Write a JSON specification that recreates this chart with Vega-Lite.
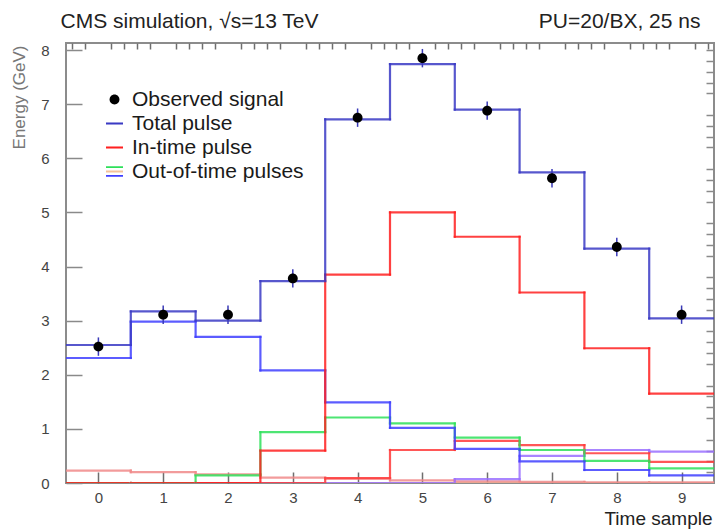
{
  "$schema": "https://vega.github.io/schema/vega-lite/v6.json",
  "width": 648,
  "height": 440,
  "autosize": "none",
  "padding": {"left": 66, "top": 43, "right": 2, "bottom": 47},
  "background": "white",
  "config": {
    "view": {"stroke": "#8c8c8c", "strokeWidth": 2},
    "font": "Liberation Sans",
    "axis": {"grid": false, "labelFont": "Liberation Sans", "titleFont": "Liberation Sans"}
  },
  "datasets": {
    "pulses": [
      {"sample": 0, "series": "oot6", "energy": 0}, {"sample": 1, "series": "oot6", "energy": 0}, {"sample": 2, "series": "oot6", "energy": 0}, {"sample": 3, "series": "oot6", "energy": 0}, {"sample": 4, "series": "oot6", "energy": 0},
      {"sample": 5, "series": "oot6", "energy": 0}, {"sample": 6, "series": "oot6", "energy": 0}, {"sample": 7, "series": "oot6", "energy": 0}, {"sample": 8, "series": "oot6", "energy": 0}, {"sample": 9, "series": "oot6", "energy": 0},
      {"sample": 0, "series": "oot1", "energy": 0.23}, {"sample": 1, "series": "oot1", "energy": 0.2}, {"sample": 2, "series": "oot1", "energy": 0.16}, {"sample": 3, "series": "oot1", "energy": 0.1}, {"sample": 4, "series": "oot1", "energy": 0.08},
      {"sample": 5, "series": "oot1", "energy": 0.05}, {"sample": 6, "series": "oot1", "energy": 0.03}, {"sample": 7, "series": "oot1", "energy": 0.02}, {"sample": 8, "series": "oot1", "energy": 0.01}, {"sample": 9, "series": "oot1", "energy": 0.01},
      {"sample": 0, "series": "oot5", "energy": 0}, {"sample": 1, "series": "oot5", "energy": 0}, {"sample": 2, "series": "oot5", "energy": 0}, {"sample": 3, "series": "oot5", "energy": 0}, {"sample": 4, "series": "oot5", "energy": 0},
      {"sample": 5, "series": "oot5", "energy": 0}, {"sample": 6, "series": "oot5", "energy": 0.07}, {"sample": 7, "series": "oot5", "energy": 0.5}, {"sample": 8, "series": "oot5", "energy": 0.61}, {"sample": 9, "series": "oot5", "energy": 0.58},
      {"sample": 0, "series": "oot4", "energy": 0}, {"sample": 1, "series": "oot4", "energy": 0}, {"sample": 2, "series": "oot4", "energy": 0}, {"sample": 3, "series": "oot4", "energy": 0}, {"sample": 4, "series": "oot4", "energy": 0.09},
      {"sample": 5, "series": "oot4", "energy": 0.61}, {"sample": 6, "series": "oot4", "energy": 0.78}, {"sample": 7, "series": "oot4", "energy": 0.7}, {"sample": 8, "series": "oot4", "energy": 0.55}, {"sample": 9, "series": "oot4", "energy": 0.39},
      {"sample": 0, "series": "oot3", "energy": 0}, {"sample": 1, "series": "oot3", "energy": 0}, {"sample": 2, "series": "oot3", "energy": 0.14}, {"sample": 3, "series": "oot3", "energy": 0.94}, {"sample": 4, "series": "oot3", "energy": 1.21},
      {"sample": 5, "series": "oot3", "energy": 1.1}, {"sample": 6, "series": "oot3", "energy": 0.84}, {"sample": 7, "series": "oot3", "energy": 0.61}, {"sample": 8, "series": "oot3", "energy": 0.41}, {"sample": 9, "series": "oot3", "energy": 0.27},
      {"sample": 0, "series": "oot2", "energy": 2.31}, {"sample": 1, "series": "oot2", "energy": 2.98}, {"sample": 2, "series": "oot2", "energy": 2.7}, {"sample": 3, "series": "oot2", "energy": 2.08}, {"sample": 4, "series": "oot2", "energy": 1.49},
      {"sample": 5, "series": "oot2", "energy": 1.02}, {"sample": 6, "series": "oot2", "energy": 0.63}, {"sample": 7, "series": "oot2", "energy": 0.4}, {"sample": 8, "series": "oot2", "energy": 0.24}, {"sample": 9, "series": "oot2", "energy": 0.14},
      {"sample": 0, "series": "In-time pulse", "energy": 0}, {"sample": 1, "series": "In-time pulse", "energy": 0}, {"sample": 2, "series": "In-time pulse", "energy": 0}, {"sample": 3, "series": "In-time pulse", "energy": 0.6}, {"sample": 4, "series": "In-time pulse", "energy": 3.85},
      {"sample": 5, "series": "In-time pulse", "energy": 5.0}, {"sample": 6, "series": "In-time pulse", "energy": 4.55}, {"sample": 7, "series": "In-time pulse", "energy": 3.52}, {"sample": 8, "series": "In-time pulse", "energy": 2.49}, {"sample": 9, "series": "In-time pulse", "energy": 1.65},
      {"sample": 0, "series": "Total pulse", "energy": 2.55}, {"sample": 1, "series": "Total pulse", "energy": 3.17}, {"sample": 2, "series": "Total pulse", "energy": 3.0}, {"sample": 3, "series": "Total pulse", "energy": 3.73}, {"sample": 4, "series": "Total pulse", "energy": 6.72},
      {"sample": 5, "series": "Total pulse", "energy": 7.74}, {"sample": 6, "series": "Total pulse", "energy": 6.9}, {"sample": 7, "series": "Total pulse", "energy": 5.74}, {"sample": 8, "series": "Total pulse", "energy": 4.33}, {"sample": 9, "series": "Total pulse", "energy": 3.04}
    ],
    "observed": [
      {"sample": 0, "series": "Observed signal", "energy": 2.52, "err": 0.17},
      {"sample": 1, "series": "Observed signal", "energy": 3.11, "err": 0.17},
      {"sample": 2, "series": "Observed signal", "energy": 3.11, "err": 0.17},
      {"sample": 3, "series": "Observed signal", "energy": 3.78, "err": 0.17},
      {"sample": 4, "series": "Observed signal", "energy": 6.75, "err": 0.17},
      {"sample": 5, "series": "Observed signal", "energy": 7.85, "err": 0.17},
      {"sample": 6, "series": "Observed signal", "energy": 6.88, "err": 0.17},
      {"sample": 7, "series": "Observed signal", "energy": 5.63, "err": 0.17},
      {"sample": 8, "series": "Observed signal", "energy": 4.36, "err": 0.17},
      {"sample": 9, "series": "Observed signal", "energy": 3.11, "err": 0.17}
    ]
  },
  "layer": [
    {
      "data": {"name": "pulses"},
      "transform": [
        {"calculate": "datum.sample - 0.5", "as": "lo"},
        {"calculate": "datum.sample + 0.5", "as": "hi"}
      ],
      "mark": {"type": "rule", "strokeWidth": 2.2, "strokeCap": "square", "opacity": 0.85, "clip": true},
      "encoding": {
        "x": {
          "field": "lo", "type": "quantitative",
          "scale": {"domain": [-0.5, 9.5], "nice": false, "zero": false},
          "axis": {
            "values": [0, 1, 2, 3, 4, 5, 6, 7, 8, 9],
            "tickSize": -11, "tickColor": "#6e6e6e", "tickWidth": 1.5, "domain": false,
            "labelFontSize": 15, "labelColor": "#444444", "labelPadding": 18,
            "title": "Time sample", "titleX": 646, "titleY": 41, "titleAlign": "right", "titleBaseline": "alphabetic",
            "titleFontSize": 19, "titleFontWeight": "normal", "titleColor": "#222222"
          }
        },
        "x2": {"field": "hi"},
        "y": {
          "field": "energy", "type": "quantitative",
          "scale": {"domain": [0, 8.13], "nice": false},
          "axis": {
            "values": [0, 1, 2, 3, 4, 5, 6, 7, 8],
            "tickSize": -16, "tickColor": "#8a8a8a", "tickWidth": 1.5, "domain": false,
            "labelFontSize": 15, "labelColor": "#444444", "labelPadding": 33,
            "title": "Energy (GeV)", "titleX": -47, "titleY": 2, "titleAngle": 270, "titleAlign": "right", "titleBaseline": "middle",
            "titleFontSize": 17, "titleFontWeight": "normal", "titleColor": "#777777"
          }
        },
        "stroke": {
          "field": "series", "type": "nominal",
          "scale": {
            "domain": ["oot6", "oot1", "oot5", "oot4", "oot3", "oot2", "In-time pulse", "Total pulse"],
            "range": ["#f4c39a", "#f08a8a", "#9a70ff", "#ff3a3a", "#2ee05a", "#3f3fff", "#ff2020", "#3a3ac4"]
          },
          "legend": null
        }
      }
    },
    {
      "data": {"name": "pulses"},
      "transform": [
        {"calculate": "datum.sample - 0.5", "as": "lo"},
        {"window": [{"op": "lag", "field": "energy", "as": "prev"}], "groupby": ["series"], "sort": [{"field": "sample", "order": "ascending"}]},
        {"filter": "datum.prev != null"}
      ],
      "mark": {"type": "rule", "strokeWidth": 2.2, "strokeCap": "square", "opacity": 0.85, "clip": true},
      "encoding": {
        "x": {
          "field": "lo", "type": "quantitative",
          "scale": {"domain": [-0.5, 9.5], "nice": false, "zero": false},
          "axis": {
            "values": [-0.4, -0.2, 0.2, 0.4, 0.6, 0.8, 1.2, 1.4, 1.6, 1.8, 2.2, 2.4, 2.6, 2.8, 3.2, 3.4, 3.6, 3.8, 4.2, 4.4, 4.6, 4.8, 5.2, 5.4, 5.6, 5.8, 6.2, 6.4, 6.6, 6.8, 7.2, 7.4, 7.6, 7.8, 8.2, 8.4, 8.6, 8.8, 9.2, 9.4],
            "tickSize": -6, "tickColor": "#6e6e6e", "tickWidth": 1.5, "domain": false, "labels": false, "title": null
          }
        },
        "y": {
          "field": "prev", "type": "quantitative",
          "scale": {"domain": [0, 8.13], "nice": false},
          "axis": {
            "values": [0.2, 0.4, 0.6, 0.8, 1.2, 1.4, 1.6, 1.8, 2.2, 2.4, 2.6, 2.8, 3.2, 3.4, 3.6, 3.8, 4.2, 4.4, 4.6, 4.8, 5.2, 5.4, 5.6, 5.8, 6.2, 6.4, 6.6, 6.8, 7.2, 7.4, 7.6, 7.8, 8.0],
            "tickSize": -8, "tickColor": "#8a8a8a", "tickWidth": 1.5, "domain": false, "labels": false, "title": null
          }
        },
        "y2": {"field": "energy"},
        "stroke": {"field": "series", "type": "nominal", "legend": null}
      }
    },
    {
      "data": {"name": "observed"},
      "mark": {"type": "errorbar", "color": "#3a3ab8", "thickness": 1.5},
      "encoding": {
        "x": {"field": "sample", "type": "quantitative", "axis": null},
        "y": {"field": "energy", "type": "quantitative", "axis": null},
        "yError": {"field": "err"}
      }
    },
    {
      "data": {"name": "observed"},
      "mark": {"type": "point", "filled": true, "size": 289, "opacity": 1, "strokeWidth": 0},
      "encoding": {
        "x": {
          "field": "sample", "type": "quantitative",
          "axis": {
            "orient": "top", "ticks": false, "labels": false, "domain": false,
            "title": "CMS simulation, √s=13 TeV", "titleX": -6, "titleY": -16, "titleAlign": "left", "titleBaseline": "alphabetic",
            "titleFontSize": 21, "titleFontWeight": "normal", "titleColor": "#222222"
          }
        },
        "y": {
          "field": "energy", "type": "quantitative",
          "axis": {
            "orient": "right", "ticks": false, "labels": false, "domain": false,
            "title": "PU=20/BX, 25 ns", "titleAngle": 0, "titleX": -14, "titleY": -16, "titleAlign": "right", "titleBaseline": "alphabetic",
            "titleFontSize": 21, "titleFontWeight": "normal", "titleColor": "#222222"
          }
        },
        "color": {
          "field": "series", "type": "nominal",
          "scale": {
            "domain": ["Observed signal", "Total pulse", "In-time pulse", "Out-of-time pulses"],
            "range": [
              "#000000", "#3a3ac4", "#ff2020",
              {"expr": "{gradient: 'linear', x1: 0, y1: 0, x2: 0, y2: 1, stops: [{offset: 0, color: '#2ee05a'}, {offset: 0.36, color: '#2ee05a'}, {offset: 0.37, color: '#f4c39a'}, {offset: 0.63, color: '#f4c39a'}, {offset: 0.64, color: '#3f3fff'}, {offset: 1, color: '#3f3fff'}]}"}
            ]
          },
          "legend": {
            "orient": "none", "legendX": 38, "legendY": 46, "title": null, "padding": 0,
            "labelFontSize": 21, "labelFont": "Liberation Sans", "labelColor": "#1a1a1a", "labelOffset": 7,
            "rowPadding": 2, "symbolSize": 289, "symbolStrokeWidth": 0, "labelLimit": 400
          }
        },
        "shape": {
          "field": "series", "type": "nominal",
          "scale": {
            "domain": ["Observed signal", "Total pulse", "In-time pulse", "Out-of-time pulses"],
            "range": [
              "M0,-0.58A0.58,0.58,0,1,1,0,0.58A0.58,0.58,0,1,1,0,-0.58Z",
              "M-1,-0.12H1V0.12H-1Z",
              "M-1,-0.12H1V0.12H-1Z",
              "M-1,-0.62H1V-0.4H-1Z M-1,-0.11H1V0.11H-1Z M-1,0.4H1V0.62H-1Z"
            ]
          },
          "legend": {
            "orient": "none", "legendX": 38, "legendY": 46, "title": null, "padding": 0,
            "labelFontSize": 21, "labelFont": "Liberation Sans", "labelColor": "#1a1a1a", "labelOffset": 7,
            "rowPadding": 2, "symbolSize": 289, "symbolStrokeWidth": 0, "labelLimit": 400
          }
        }
      }
    }
  ],
  "resolve": {"axis": {"x": "independent", "y": "independent"}}
}
